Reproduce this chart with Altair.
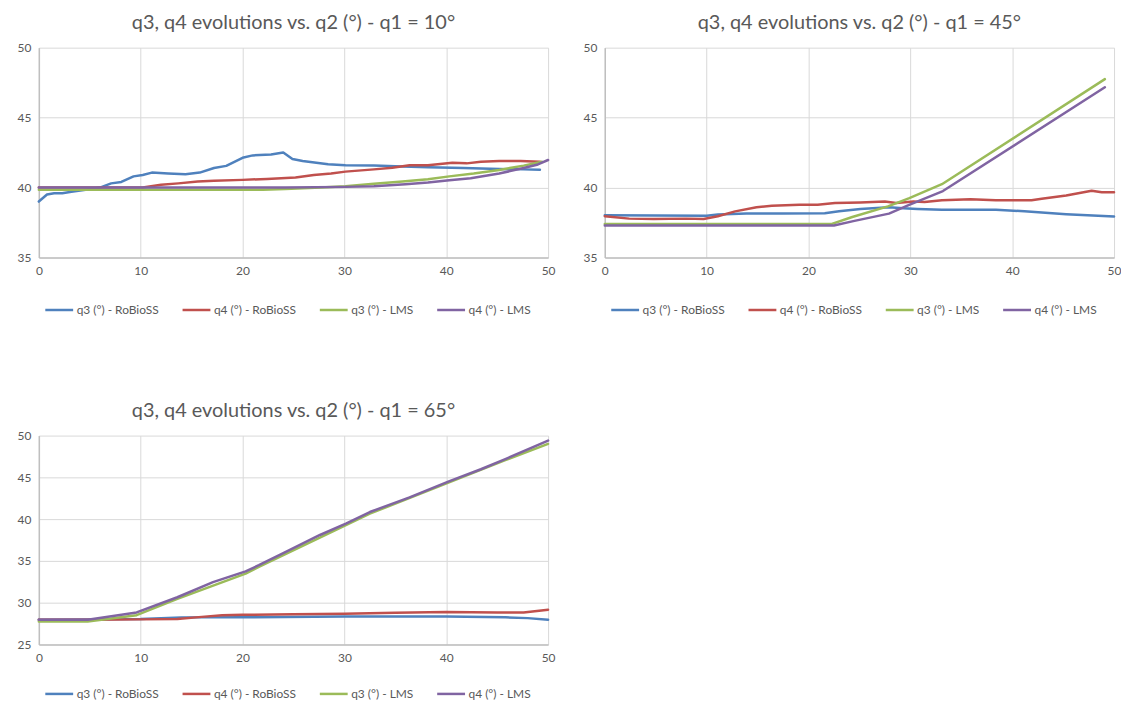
import altair as alt
import pandas as pd

SERIES = ["q3 (°) - RoBioSS", "q4 (°) - RoBioSS", "q3 (°) - LMS", "q4 (°) - LMS"]
COLORS = ["#4F81BD", "#C0504D", "#9BBB59", "#8064A2"]
FONT = "Lato"
TEXT = "#595959"

# ---------- Panel 1 : q1 = 10 deg ----------
p1_q3_rob_x = [0, 0.8, 1.5, 2.3, 3.2, 4.6, 6.0, 7.1, 8.1, 9.3, 10.2, 11.1, 12.7, 14.4, 15.8, 17.2, 18.4,
               20.0, 21.0, 22.8, 24.0, 24.9, 25.9, 28.4, 30.1, 32.9, 35.7, 38.2, 41.7, 45.2, 47.6, 49.2]
p1_q3_rob_y = [39.0, 39.5, 39.6, 39.6, 39.7, 39.85, 40.0, 40.3, 40.4, 40.8, 40.9, 41.07, 41.0, 40.95, 41.07,
               41.4, 41.55, 42.13, 42.3, 42.37, 42.5, 42.04, 41.9, 41.66, 41.6, 41.57, 41.5, 41.45, 41.4,
               41.33, 41.3, 41.28]
p1_q4_rob_x = [0, 10.2, 12.0, 13.7, 15.6, 17.2, 20.0, 22.4, 25.2, 27.0, 28.7, 30.1, 32.9, 34.7, 36.4,
               38.2, 40.6, 42.0, 43.4, 45.2, 47.3, 49.2]
p1_q4_rob_y = [40.0, 40.0, 40.2, 40.3, 40.43, 40.48, 40.55, 40.62, 40.72, 40.9, 41.0, 41.14, 41.3, 41.42,
               41.6, 41.6, 41.78, 41.73, 41.85, 41.9, 41.9, 41.85]
p1_q3_lms_x = [0, 10, 20, 22, 24.2, 27.7, 30.1, 32.9, 35.7, 38.2, 40.3, 42.7, 45.2, 47.6, 49.4]
p1_q3_lms_y = [39.85, 39.85, 39.85, 39.85, 39.9, 40.0, 40.1, 40.27, 40.43, 40.6, 40.8, 41.0, 41.26, 41.57, 41.85]
p1_q4_lms_x = [0, 10, 20, 24.2, 30.1, 32.9, 36.0, 38.2, 40.3, 42.4, 45.2, 47.6, 49.0, 50]
p1_q4_lms_y = [40.0, 40.0, 40.0, 40.0, 40.05, 40.1, 40.24, 40.36, 40.53, 40.67, 41.0, 41.4, 41.65, 41.97]

# ---------- Panel 2 : q1 = 45 deg ----------
p2_q3_rob_x = [0, 5, 10, 11.1, 13.9, 17.4, 21.6, 23.0, 25.1, 27.9, 29.3, 30.7, 33.1, 38.4, 41.2, 45.3, 47.4, 50]
p2_q3_rob_y = [38.02, 38.0, 37.98, 38.07, 38.14, 38.14, 38.17, 38.3, 38.47, 38.6, 38.52, 38.47, 38.42, 38.42,
               38.3, 38.1, 38.02, 37.93]
p2_q4_rob_x = [0, 2.4, 4.8, 8.0, 9.7, 11.1, 12.8, 14.9, 16.4, 19.1, 20.9, 22.6, 25.1, 27.5, 28.6, 30.3, 31.4,
               33.1, 35.9, 38.4, 41.9, 42.9, 45.3, 47.8, 48.8, 50]
p2_q4_rob_y = [37.95, 37.78, 37.76, 37.78, 37.76, 37.95, 38.3, 38.6, 38.7, 38.78, 38.78, 38.9, 38.94, 39.0,
               38.9, 39.0, 38.97, 39.09, 39.16, 39.09, 39.09, 39.2, 39.44, 39.77, 39.67, 39.67]
p2_q3_lms_x = [0, 10, 22.3, 24.3, 27.8, 29.9, 33.1, 49.1]
p2_q3_lms_y = [37.4, 37.4, 37.4, 37.9, 38.66, 39.25, 40.24, 47.75]
p2_q4_lms_x = [0, 10, 22.5, 24.4, 27.9, 30.0, 33.2, 49.1]
p2_q4_lms_y = [37.29, 37.29, 37.29, 37.6, 38.14, 38.8, 39.75, 47.17]

# ---------- Panel 3 : q1 = 65 deg ----------
p3_q3_rob_x = [0, 5, 10, 14, 20, 30, 40, 45.8, 48, 50]
p3_q3_rob_y = [27.95, 28.0, 28.05, 28.24, 28.25, 28.35, 28.35, 28.25, 28.15, 27.95]
p3_q4_rob_x = [0, 5, 10, 13.6, 16, 18, 20, 25, 30, 35, 40, 45, 47.6, 50]
p3_q4_rob_y = [27.95, 27.95, 28.0, 28.05, 28.3, 28.5, 28.55, 28.6, 28.68, 28.8, 28.88, 28.82, 28.82, 29.15]
p3_q3_lms_x = [0, 4.8, 9.6, 13.6, 20.3, 21.6, 30.2, 32.5, 45.8, 50]
p3_q3_lms_y = [27.74, 27.74, 28.5, 30.45, 33.47, 34.28, 39.3, 40.65, 47.06, 49.0]
p3_q4_lms_x = [0, 4.8, 9.6, 13.6, 17.1, 20.3, 21.6, 24.1, 27.6, 30.2, 32.5, 36.4, 40.2, 43.4, 45.8, 50]
p3_q4_lms_y = [27.95, 27.95, 28.83, 30.65, 32.46, 33.75, 34.48, 36.0, 38.1, 39.5, 40.85, 42.6, 44.48,
               45.97, 47.18, 49.4]

TITLES = ["q3, q4 evolutions vs. q2 (°) - q1 = 10°",
          "q3, q4 evolutions vs. q2 (°) - q1 = 45°",
          "q3, q4 evolutions vs. q2 (°) - q1 = 65°"]
X_TICKS = [0, 10, 20, 30, 40, 50]


def frame(pairs):
    rows = []
    for k, (xs, ys) in enumerate(pairs):
        for i, (xv, yv) in enumerate(zip(xs, ys)):
            rows.append({"series": SERIES[k], "k": k, "i": i, "x": xv, "y": yv})
    return pd.DataFrame(rows)


def panel(df, title, ymin, yticks, height, legend_y):
    return alt.Chart(df).mark_line(strokeWidth=2.5, strokeCap="round", strokeJoin="round").encode(
        x=alt.X("x:Q", scale=alt.Scale(domain=[0, 50], nice=False),
                axis=alt.Axis(values=X_TICKS, title=None, labelFlush=False, grid=True)),
        y=alt.Y("y:Q", scale=alt.Scale(domain=[ymin, 50], nice=False, zero=False),
                axis=alt.Axis(values=yticks, title=None, grid=True)),
        color=alt.Color("series:N", scale=alt.Scale(domain=SERIES, range=COLORS),
                        legend=alt.Legend(orient="none", legendX=5, legendY=legend_y,
                                          direction="horizontal", title=None,
                                          symbolType="stroke", symbolSize=784,
                                          symbolStrokeWidth=2.5, labelFont=FONT,
                                          labelFontSize=12, labelColor=TEXT,
                                          labelOffset=2, columnPadding=18)),
        detail="k:N",
        order="i:Q",
    ).properties(
        width=512, height=height,
        title=alt.TitleParams(title, font=FONT, fontSize=20, fontWeight="normal",
                              color=TEXT, anchor="middle", offset=9),
    )


d1 = frame([(p1_q3_rob_x, p1_q3_rob_y), (p1_q4_rob_x, p1_q4_rob_y),
            (p1_q3_lms_x, p1_q3_lms_y), (p1_q4_lms_x, p1_q4_lms_y)])
d2 = frame([(p2_q3_rob_x, p2_q3_rob_y), (p2_q4_rob_x, p2_q4_rob_y),
            (p2_q3_lms_x, p2_q3_lms_y), (p2_q4_lms_x, p2_q4_lms_y)])
d3 = frame([(p3_q3_rob_x, p3_q3_rob_y), (p3_q4_rob_x, p3_q4_rob_y),
            (p3_q3_lms_x, p3_q3_lms_y), (p3_q4_lms_x, p3_q4_lms_y)])

c1 = panel(d1, TITLES[0], 35, [35, 40, 45, 50], 211, 248)
c2 = panel(d2, TITLES[1], 35, [35, 40, 45, 50], 211, 248)
c3 = panel(d3, TITLES[2], 25, [25, 30, 35, 40, 45, 50], 210, 244)

top = alt.hconcat(c1, c2, spacing=28).resolve_scale(color="independent").resolve_legend(color="independent")
chart = alt.vconcat(top, c3, spacing=85).resolve_scale(color="independent").resolve_legend(
    color="independent"
).properties(
    padding={"left": 9, "top": 3, "right": 0, "bottom": 0}
).configure_view(strokeWidth=0).configure_axis(
    labelFont=FONT, labelFontSize=12, labelColor=TEXT,
    gridColor="#D9D9D9", gridWidth=1, domainColor="#BFBFBF", domainWidth=1.5,
    ticks=False, labelPadding=8,
)

chart.save("out.html", embed_options={"renderer": "svg", "actions": False})
